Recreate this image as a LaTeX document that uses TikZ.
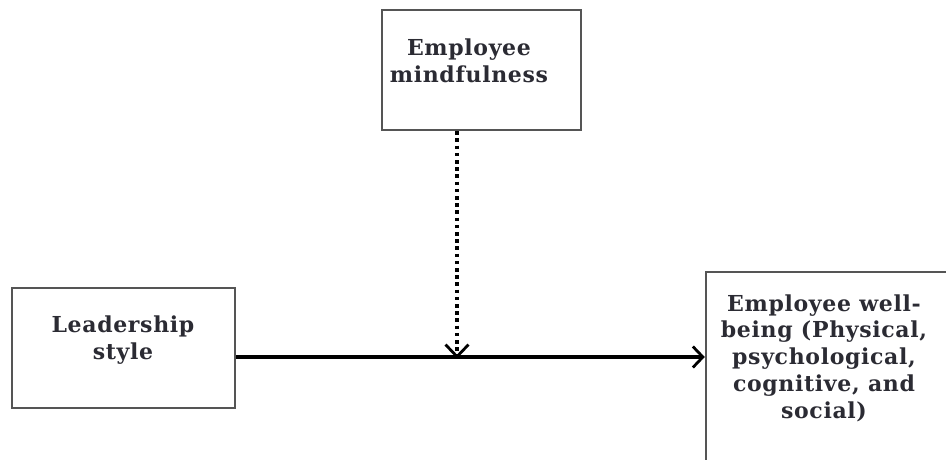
\documentclass[tikz,border=0pt]{standalone}
\usepackage{fontspec}
\setmainfont{DejaVu Serif}[LetterSpace=3]
\usetikzlibrary{arrows.meta}
\definecolor{inkcol}{HTML}{2B2B33}
\definecolor{framecol}{HTML}{555555}
\tikzset{
  box/.style={draw=framecol, line width=2.4pt, fill=white, inner sep=0pt},
  label/.style={text=inkcol, font=\bfseries\fontsize{22}{26.7}\selectfont, align=center, inner sep=0pt},
  conn/.style={line width=3.2pt, -{Straight Barb[length=10pt,width=21pt,line width=2.8pt]}},
  dotconn/.style={conn, line width=3.8pt, dash pattern=on 3.6pt off 3.6pt, -{Straight Barb[length=12pt,width=23pt,line width=2.8pt]}}
}
\begin{document}
\begin{tikzpicture}[x=1pt,y=-1pt]
  \useasboundingbox (0,0) rectangle (946,459);
  \clip (0,0) rectangle (946,459);
  \fill[white] (0,0) rectangle (946,459);

  % boxes
  \node[box, minimum width=199pt, minimum height=120pt] (mind) at (481.5,70) {};
  \node[box, minimum width=223pt, minimum height=120pt] (lead) at (123.5,348) {};
  \node[box, minimum width=250pt, minimum height=210pt] (well) at (831,377) {};

  % texts
  \node[label] (mindtxt) at (469,61) {Employee\\mindfulness};
  \node[label] (leadtxt) at (123,340) {Leadership\\style};
  \node[label] (welltxt) at (824,358) {Employee well-\\being (Physical,\\psychological,\\cognitive, and\\social)};

  % paths
  \coordinate (join) at (457,357);
  \draw[conn] (lead.east |- join) -- (well.west |- join);
  \draw[dotconn] (mind.south -| join) -- ([yshift=-1.6pt]join);
\end{tikzpicture}
\end{document}
